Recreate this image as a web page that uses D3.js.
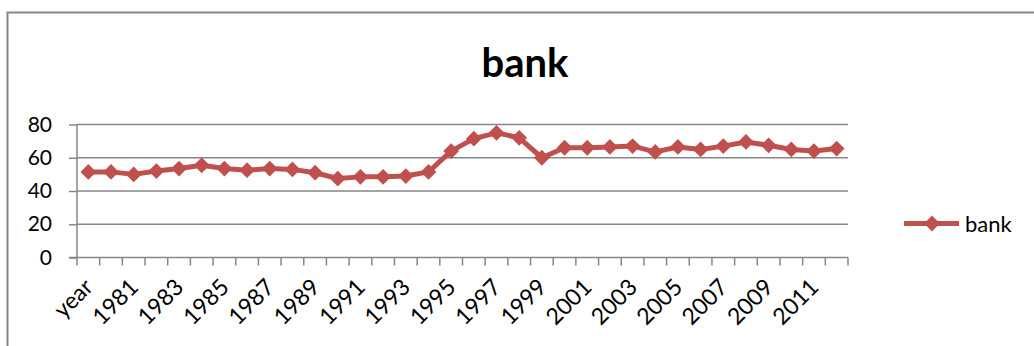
<!DOCTYPE html>
<html>
<head>
<meta charset="utf-8">
<script src="https://cdn.jsdelivr.net/npm/d3@7"></script>
<style>
  body { margin: 0; background: #fff; }
  svg { display: block; font-family: Lato, "Open Sans", sans-serif; }
</style>
</head>
<body>
<svg width="1034" height="346"></svg>
<script>
// categories and values
let years = ["year", "1980", "1981", "1982", "1983", "1984", "1985", "1986", "1987",
  "1988", "1989", "1990", "1991", "1992", "1993", "1994", "1995", "1996", "1997",
  "1998", "1999", "2000", "2001", "2002", "2003", "2004", "2005", "2006", "2007",
  "2008", "2009", "2010", "2011", "2012"];
let bank = [51.5, 51.5, 50, 52, 53.5, 55.5, 53.5, 52.5, 53.5, 53, 51, 47.5, 48.5,
  48.5, 49, 51.5, 64, 71.5, 75, 72, 60, 66, 66, 66.5, 67, 63.5, 66.5, 65, 67,
  69.5, 67.5, 65, 64, 65.5];
let yTicks = [0, 20, 40, 60, 80];
let seriesName = "bank";

let red = "#c0504d";
let grey = "#868686";

let svg = d3.select("svg");

// chart frame (cut off at right and bottom)
svg.append("path")
  .attr("d", "M7.5,346 V12.5 H1034")
  .attr("fill", "none")
  .attr("stroke", grey)
  .attr("stroke-width", 2);

// title
svg.append("text")
  .attr("x", 525)
  .attr("y", 77)
  .attr("text-anchor", "middle")
  .attr("font-size", 40)
  .attr("font-weight", "bold")
  .text("bank");

let plotL = 77, plotR = 848, plotT = 124.5, plotB = 257.5;

let x = d3.scaleBand().domain(years).range([plotL, plotR]);
let y = d3.scaleLinear().domain([0, 80]).range([plotB, plotT]);

// gridlines
svg.append("g")
  .selectAll("line")
  .data(yTicks.slice(1))
  .enter()
  .append("line")
  .attr("x1", plotL)
  .attr("x2", plotR)
  .attr("y1", function (d) { return y(d); })
  .attr("y2", function (d) { return y(d); })
  .attr("stroke", grey)
  .attr("stroke-width", 1.5);

// y axis
let yAxis = svg.append("g")
  .attr("transform", "translate(" + plotL + ",0)")
  .call(d3.axisLeft(y).tickValues(yTicks).tickSize(8).tickPadding(17));
yAxis.selectAll("path, line").attr("stroke", grey).attr("stroke-width", 1.5);
yAxis.select(".domain").attr("d", "M0," + plotT + "V" + plotB);
yAxis.selectAll("text")
  .attr("font-family", "Lato, sans-serif")
  .attr("font-size", 21)
  .attr("fill", "#000");

// x axis: ticks at category boundaries
let xg = svg.append("g").attr("transform", "translate(0," + plotB + ")");
xg.append("line")
  .attr("x1", plotL - 8)
  .attr("x2", plotR)
  .attr("stroke", grey)
  .attr("stroke-width", 1.5);
xg.selectAll("line.tick")
  .data(d3.range(years.length + 1))
  .enter()
  .append("line")
  .attr("class", "tick")
  .attr("x1", function (i) { return plotL + i * x.step(); })
  .attr("x2", function (i) { return plotL + i * x.step(); })
  .attr("y1", 0)
  .attr("y2", 8)
  .attr("stroke", grey)
  .attr("stroke-width", 1.5);
xg.selectAll("text")
  .data(years.filter(function (d, i) { return i % 2 === 0; }))
  .enter()
  .append("text")
  .attr("transform", function (d) {
    return "translate(" + (x(d) + x.bandwidth() / 2 + 6) + ",31) rotate(-45)";
  })
  .attr("text-anchor", "end")
  .attr("font-size", 23)
  .text(function (d) { return d; });

// series line
let line = d3.line()
  .x(function (d, i) { return x(years[i]) + x.bandwidth() / 2; })
  .y(function (d) { return y(d); });

svg.append("path")
  .datum(bank)
  .attr("d", line)
  .attr("fill", "none")
  .attr("stroke", red)
  .attr("stroke-width", 5)
  .attr("stroke-linejoin", "round");

let diamond = d3.symbol().type(d3.symbolSquare).size(125);

svg.append("g")
  .selectAll("path")
  .data(bank)
  .enter()
  .append("path")
  .attr("d", diamond)
  .attr("transform", function (d, i) {
    return "translate(" + (x(years[i]) + x.bandwidth() / 2) + "," + y(d) + ") rotate(45)";
  })
  .attr("fill", red);

// legend
let lg = svg.append("g").attr("transform", "translate(904,223.5)");
lg.append("line")
  .attr("x1", 0)
  .attr("x2", 55)
  .attr("stroke", red)
  .attr("stroke-width", 5);
lg.append("path")
  .attr("d", diamond)
  .attr("transform", "translate(28,0) rotate(45)")
  .attr("fill", red);
lg.append("text")
  .attr("x", 61)
  .attr("y", 8)
  .attr("font-size", 22)
  .text(seriesName);
</script>
</body>
</html>
